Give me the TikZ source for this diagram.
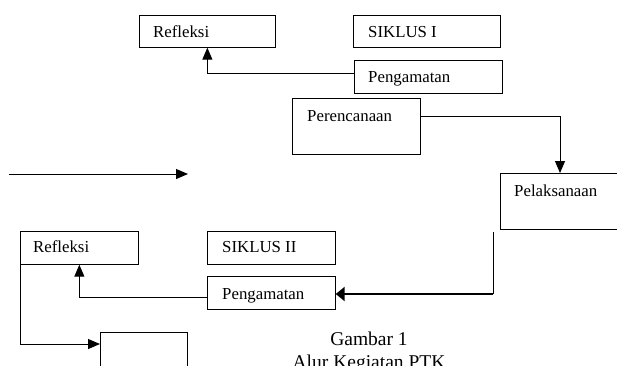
\documentclass[tikz,border=0pt]{standalone}
\usepackage{fontspec}
\setmainfont{Liberation Serif}
\usetikzlibrary{arrows.meta}
\begin{document}
\begin{tikzpicture}[x=1pt,y=-1pt,
  box/.style={draw,line width=0.7pt,inner sep=0pt,anchor=north west},
  lbl/.style={anchor=base west,inner sep=0pt,font=\fontsize{16.8}{19}\selectfont},
  captext/.style={anchor=base,inner sep=0pt,font=\fontsize{19.5}{23}\selectfont},
  conn/.style={line width=1pt},
  arr/.style={conn,-{Triangle[length=12pt,width=10pt]}},
  thickarr/.style={line width=2.4pt,-{Triangle[length=9pt,width=14pt]}}]
\clip (0,0) rectangle (617,365);
\useasboundingbox (0,0) rectangle (617,365);
% top cycle
\node[box,minimum width=136pt,minimum height=32pt] (refl1) at (139,15) {};
\node[box,minimum width=147pt,minimum height=32pt] (sik1) at (353,15) {};
\node[box,minimum width=148pt,minimum height=33pt] (peng1) at (354,60) {};
\node[box,minimum width=128pt,minimum height=56pt] (perenc) at (292,98) {};
\node[box,minimum width=125pt,minimum height=56pt] (pelak) at (500,173) {};
% bottom cycle
\node[box,minimum width=118pt,minimum height=33pt] (refl2) at (20,231) {};
\node[box,minimum width=128pt,minimum height=33pt] (sik2) at (207,231) {};
\node[box,minimum width=128pt,minimum height=33pt] (peng2) at (207,276) {};
\node[box,minimum width=87pt,minimum height=45pt] (perenc2) at (100,332) {};
% labels
\node[lbl] (t-refl1) at (153,37) {Refleksi};
\node[lbl] (t-sik1) at (368,37) {SIKLUS I};
\node[lbl] (t-peng1) at (368,82) {Pengamatan};
\node[lbl] (t-perenc) at (307,121) {Perencanaan};
\node[lbl] (t-pelak) at (514,196) {Pelaksanaan};
\node[lbl] (t-refl2) at (33,252) {Refleksi};
\node[lbl] (t-sik2) at (222,252) {SIKLUS II};
\node[lbl] (t-peng2) at (222,299) {Pengamatan};
\node[captext] (cap1) at (369,345) {Gambar 1};
\node[captext] (cap2) at (369,368) {Alur Kegiatan PTK};
% coordinates
\coordinate (lstart) at (9,174);
\coordinate (lend) at (188,174);
\coordinate (vtop) at (493,232);
\coordinate (vbot) at (493,294);
% connectors
\draw[arr] (lstart) -- (lend);
\draw[arr] ([yshift=3.5pt]peng1.west) -| (refl1.south);
\draw[arr] ([yshift=9.5pt]perenc.east) -| (pelak.north -| 560,0);
\draw[conn] (vtop) -- (vbot);
\draw[thickarr] (vbot) -- (vbot -| peng2.east);
\draw[arr] ([yshift=-5pt]peng2.west) -| (refl2.south);
\draw[arr] (refl2.south west) |- ([yshift=-12pt]perenc2.north west);
\end{tikzpicture}
\end{document}
